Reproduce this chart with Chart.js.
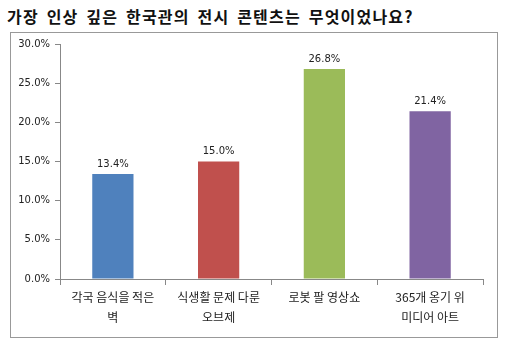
<!DOCTYPE html>
<html>
<head>
<meta charset="utf-8">
<script src="https://cdn.jsdelivr.net/npm/chart.js@4"></script>
<style>
  html, body { margin: 0; padding: 0; background: #fff; }
  #wrap { position: relative; width: 508px; height: 353px; }
  #title { position: absolute; left: 7px; top: 4px; font: bold 16px "Noto Sans CJK KR", sans-serif; color: #111; letter-spacing: 1.2px; word-spacing: 3px; white-space: nowrap; }
  #box { position: absolute; left: 10px; top: 32px; width: 486px; height: 304px; border: 1px solid #999; }
  canvas { position: absolute; left: 0; top: 0; }
</style>
</head>
<body>
<div id="wrap">
  <div id="title">가장 인상 깊은 한국관의 전시 콘텐츠는 무엇이었나요?</div>
  <div id="box"></div>
  <canvas id="chart" width="508" height="353"></canvas>
</div>
<script>
const categories = [
  ['각국 음식을 적은', '벽'],
  ['식생활 문제 다룬', '오브제'],
  ['로봇 팔 영상쇼'],
  ['365개 옹기 위', '미디어 아트']
];
const values = [13.4, 15.0, 26.8, 21.4];
const barColors = ['#4F81BD', '#C0504D', '#9BBB59', '#8064A2'];
const yTicks = [0, 5, 10, 15, 20, 25, 30];

const numFont = '"DejaVu Sans", sans-serif';
const krFont = '"Noto Sans CJK KR", sans-serif';

// value labels above each bar
const valueLabels = {
  id: 'valueLabels',
  afterDatasetsDraw(chart) {
    const ctx = chart.ctx;
    const meta = chart.getDatasetMeta(0);
    ctx.save();
    ctx.font = '10px ' + numFont;
    ctx.fillStyle = '#222';
    ctx.textAlign = 'center';
    ctx.textBaseline = 'bottom';
    meta.data.forEach((bar, i) => {
      ctx.fillText(values[i].toFixed(1) + '%', bar.x, bar.y - 5);
    });
    ctx.restore();
  }
};

const ctx = document.getElementById('chart').getContext('2d');
new Chart(ctx, {
  type: 'bar',
  data: {
    labels: categories,
    datasets: [{
      data: values,
      backgroundColor: barColors,
      borderWidth: 0,
      barPercentage: 0.39,
      categoryPercentage: 1
    }]
  },
  options: {
    responsive: false,
    animation: false,
    layout: { padding: { left: 0, top: 44, right: 25, bottom: 0 } },
    plugins: { legend: { display: false }, tooltip: { enabled: false } },
    scales: {
      x: {
        afterFit: (s) => { s.height = 74; },
        grid: { offset: true, drawOnChartArea: false, drawTicks: true, tickLength: 6, color: '#888' },
        border: { color: '#888' },
        ticks: {
          font: { family: krFont, size: 12, lineHeight: 1.65 },
          color: '#222',
          padding: 3,
          maxRotation: 0,
          autoSkip: false
        }
      },
      y: {
        min: 0,
        max: 30,
        afterFit: (s) => { s.width = 60; },
        afterBuildTicks: (s) => { s.ticks = yTicks.map(v => ({ value: v })); },
        grid: { drawOnChartArea: false, drawTicks: true, tickLength: 5, color: '#888' },
        border: { color: '#888' },
        ticks: {
          font: { family: numFont, size: 10 },
          color: '#222',
          padding: 5,
          callback: (v) => v.toFixed(1) + '%'
        }
      }
    }
  },
  plugins: [valueLabels]
});
</script>
</body>
</html>
